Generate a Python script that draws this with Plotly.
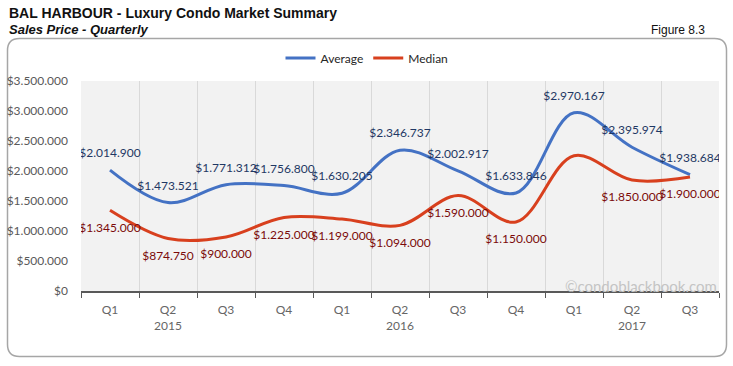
import plotly.graph_objects as go

quarters = ["Q1", "Q2", "Q3", "Q4", "Q1", "Q2", "Q3", "Q4", "Q1", "Q2", "Q3"]
years = ["2015", "2015", "2015", "2015", "2016", "2016", "2016", "2016", "2017", "2017", "2017"]
average = [2014900, 1473521, 1771312, 1756800, 1630205, 2346737, 2002917, 1633846, 2970167, 2395974, 1938684]
median = [1345000, 874750, 900000, 1225000, 1199000, 1094000, 1590000, 1150000, 2255000, 1850000, 1900000]
median_labeled = [True, True, True, True, True, True, True, True, False, True, True]
y_ticks = [0, 500000, 1000000, 1500000, 2000000, 2500000, 3000000, 3500000]


def fmt(v):
    return "$" + f"{v:,}".replace(",", ".")


cats = [f"{y}-{q}" for y, q in zip(years, quarters)]
ticktext = []
for i, (y, q) in enumerate(zip(years, quarters)):
    first = years.index(y)
    ticktext.append(f"{q}<br>{y}" if i == first + 1 else q)

W, H = 733, 366
L, R, T, B = 81, 719, 81, 291
pw, ph = R - L, B - T


def px(x):
    return (x - L) / pw


def py(y):
    return (B - y) / ph


LABEL_FONT = "Lato, 'Open Sans', sans-serif"
BLUE, RED = "#4472C4", "#D8401E"

fig = go.Figure()
fig.add_trace(go.Scatter(
    x=cats, y=average, name="Average", mode="lines",
    line=dict(color=BLUE, width=3, shape="spline", smoothing=1.0),
))
fig.add_trace(go.Scatter(
    x=cats, y=median, name="Median", mode="lines",
    line=dict(color=RED, width=3, shape="spline", smoothing=1.0),
))
fig.add_trace(go.Scatter(
    x=cats, y=average, mode="markers+text", showlegend=False, hoverinfo="skip",
    marker=dict(size=14, opacity=0, color=BLUE),
    text=[fmt(v) for v in average], textposition="top center",
    textfont=dict(color="#1F3864", size=12, family=LABEL_FONT),
))
fig.add_trace(go.Scatter(
    x=cats, y=median, mode="markers+text", showlegend=False, hoverinfo="skip",
    marker=dict(size=18, opacity=0, color=RED),
    text=[fmt(v) if show else "" for v, show in zip(median, median_labeled)],
    textposition="bottom center",
    textfont=dict(color="#7B0A0A", size=12, family=LABEL_FONT),
))

# rounded outer frame
x0, x1, y0, y1 = 7.5, 726.5, 38.5, 356.5
r = 12
path = (
    f"M {px(x0 + r)} {py(y0)} L {px(x1 - r)} {py(y0)} "
    f"Q {px(x1)} {py(y0)} {px(x1)} {py(y0 + r)} "
    f"L {px(x1)} {py(y1 - r)} Q {px(x1)} {py(y1)} {px(x1 - r)} {py(y1)} "
    f"L {px(x0 + r)} {py(y1)} Q {px(x0)} {py(y1)} {px(x0)} {py(y1 - r)} "
    f"L {px(x0)} {py(y0 + r)} Q {px(x0)} {py(y0)} {px(x0 + r)} {py(y0)} Z"
)
fig.add_shape(type="path", xref="paper", yref="paper", path=path,
              line=dict(color="#A6A6A6", width=1.5), layer="below")

fig.update_layout(
    width=W, height=H,
    margin=dict(l=L, r=W - R, t=T, b=H - B, pad=0, autoexpand=False),
    paper_bgcolor="white", plot_bgcolor="#F2F2F2",
    separators=",.",
    font=dict(family="'Liberation Sans', Arial, sans-serif", color="#595959", size=12),
    showlegend=True,
    legend=dict(orientation="h", x=px(367), xanchor="center", y=py(58), yanchor="middle",
                font=dict(family=LABEL_FONT, size=12, color="#262626"),
                bgcolor="rgba(0,0,0,0)", itemwidth=30, tracegroupgap=0),
    xaxis=dict(
        type="category", categoryorder="array", categoryarray=cats,
        tickmode="array", tickvals=cats, ticktext=ticktext,
        tickson="boundaries", ticks="outside", ticklen=5, tickcolor="#595959",
        showgrid=True, gridcolor="#D9D9D9", gridwidth=1,
        showline=True, linecolor="#595959", linewidth=1.5,
        tickfont=dict(family=LABEL_FONT, size=12, color="#666666"),
        ticklabelstandoff=7, automargin=False,
        range=[-0.5, len(cats) - 0.5], fixedrange=True, zeroline=False,
    ),
    yaxis=dict(
        range=[0, 3500000], tickmode="array", tickvals=y_ticks,
        ticktext=[fmt(v) for v in y_ticks],
        showgrid=False, zeroline=False, showline=False, ticks="",
        tickfont=dict(family=LABEL_FONT, size=12, color="#595959"),
        ticklabelstandoff=12, fixedrange=True, automargin=False,
    ),
    annotations=[
        dict(text="<b>BAL HARBOUR - Luxury Condo Market Summary</b>", xref="paper", yref="paper",
             x=px(7), y=py(13), xanchor="left", yanchor="middle", showarrow=False,
             font=dict(family="'Liberation Sans', Arial, sans-serif", size=14, color="#111111")),
        dict(text="<b><i>Sales Price - Quarterly</i></b>", xref="paper", yref="paper",
             x=px(7), y=py(30), xanchor="left", yanchor="middle", showarrow=False,
             font=dict(family="'Liberation Sans', Arial, sans-serif", size=13, color="#111111")),
        dict(text="Figure 8.3", xref="paper", yref="paper",
             x=px(707), y=py(30), xanchor="right", yanchor="middle", showarrow=False,
             font=dict(family="'Liberation Sans', Arial, sans-serif", size=12, color="#111111")),
        dict(text="©condoblackbook.com", xref="paper", yref="paper",
             x=1.0, y=py(286), xanchor="right", yanchor="middle", showarrow=False,
             font=dict(family=LABEL_FONT, size=15, color="#C4C4C4")),
    ],
)

fig.write_html("out.html", config={"displayModeBar": False},
               post_script="document.body.style.margin='0';document.body.style.padding='0';")
